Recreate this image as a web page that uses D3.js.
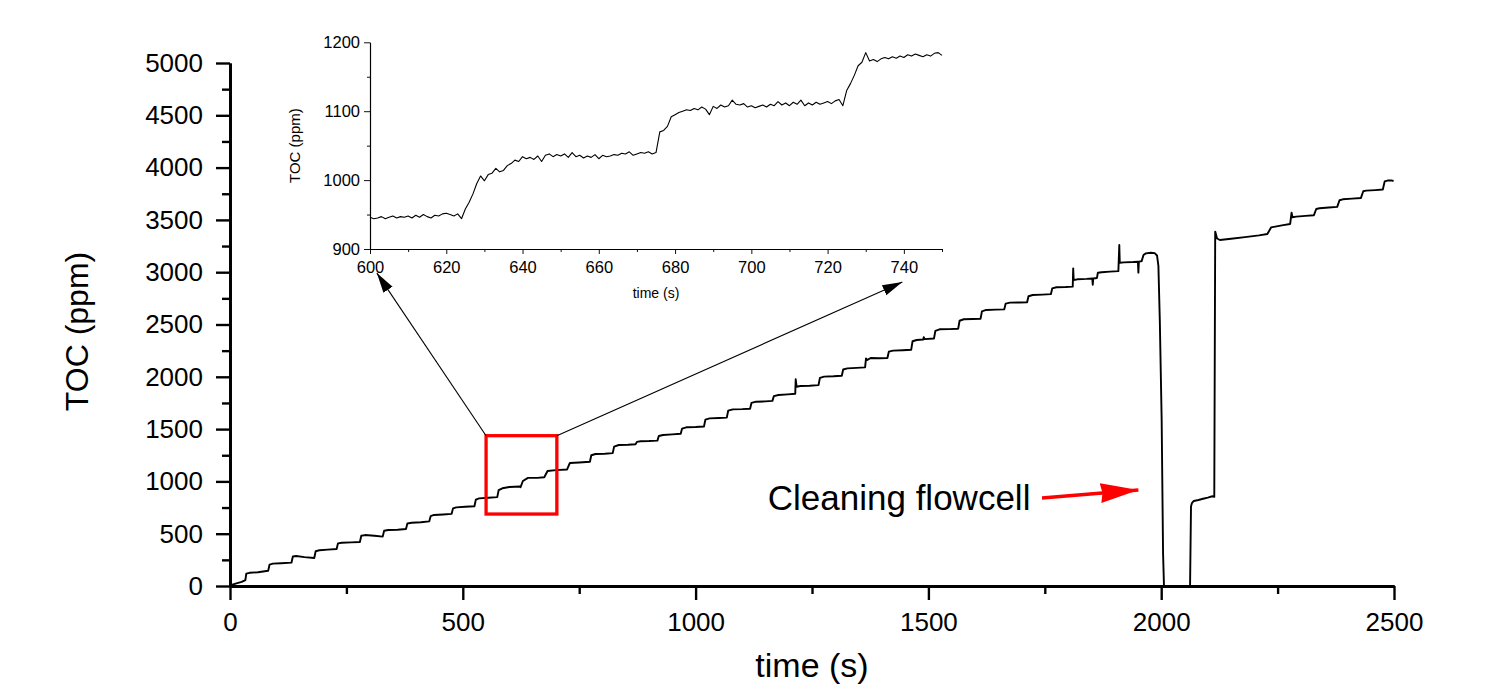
<!DOCTYPE html>
<html lang="en">
<head>
    <meta charset="UTF-8">
    <title>TOC vs time</title>
    <script src="https://d3js.org/d3.v7.min.js"></script>
    <style>
        body {
            margin: 0;
            background: #fff;
            font-family: "Liberation Sans", Arial, sans-serif;
        }
        svg {
            display: block;
        }
    </style>
</head>
<body>
    <svg width="1487" height="685"></svg>

    <script>
        // main trace, [time (s), TOC (ppm)]; null = signal off the axis
        const mainTOC = [
            [0, 5], [12, 22], [25, 40], [33, 57], [35, 118], [42, 126], [60, 132], [82, 146],
            [85, 205], [92, 214], [110, 218], [132, 223],
            [135, 282], [142, 287], [160, 276], [181, 268],
            [184, 332], [192, 342], [210, 348], [229, 354],
            [232, 408], [240, 414], [260, 417], [279, 420],
            [282, 480], [290, 487], [310, 480], [328, 472],
            [331, 528], [340, 535], [360, 538], [378, 545],
            [381, 598], [390, 605], [410, 610], [428, 618],
            [431, 668], [438, 679], [458, 684], [476, 690],
            [479, 742], [486, 752], [505, 757], [525, 762],
            [528, 826], [535, 838], [555, 844], [574, 850],
            [577, 916], [585, 934], [600, 946], [623, 951],
            [624, 944], [629, 1004], [640, 1034], [660, 1034], [675, 1040],
            [682, 1100], [700, 1108], [724, 1114],
            [730, 1176], [750, 1181], [773, 1188],
            [776, 1250], [785, 1262], [805, 1265], [822, 1270],
            [825, 1332], [835, 1348], [855, 1350], [871, 1355],
            [874, 1378], [882, 1384], [900, 1386], [918, 1390],
            [921, 1434], [930, 1444], [950, 1450], [968, 1455],
            [971, 1505], [980, 1517], [1000, 1520], [1018, 1525],
            [1021, 1590], [1030, 1603], [1050, 1606], [1067, 1610],
            [1070, 1676], [1080, 1689], [1100, 1691], [1117, 1695],
            [1120, 1750], [1130, 1762], [1150, 1765], [1165, 1770],
            [1168, 1815], [1178, 1826], [1198, 1832], [1214, 1838],
            [1215, 1976], [1217, 1905], [1225, 1912], [1245, 1915], [1264, 1920],
            [1267, 1990], [1276, 2002], [1296, 2005], [1314, 2010],
            [1317, 2070], [1326, 2081], [1346, 2085], [1364, 2090],
            [1366, 2175], [1368, 2160], [1376, 2180], [1395, 2178], [1412, 2180],
            [1415, 2240], [1424, 2250], [1445, 2254], [1463, 2258],
            [1466, 2340], [1475, 2352], [1489, 2356], [1490, 2378], [1492, 2360], [1512, 2366],
            [1515, 2440], [1524, 2454], [1545, 2456], [1564, 2460],
            [1567, 2536], [1576, 2550], [1595, 2552], [1612, 2555],
            [1615, 2626], [1624, 2639], [1645, 2642], [1663, 2645],
            [1666, 2700], [1675, 2709], [1695, 2710], [1712, 2712],
            [1715, 2770], [1724, 2782], [1745, 2786], [1763, 2790],
            [1766, 2845], [1775, 2856], [1795, 2858], [1810, 2862],
            [1811, 3037], [1812, 2925], [1820, 2932], [1840, 2936], [1852, 2940],
            [1853, 2880], [1854, 2940], [1862, 2945],
            [1864, 2995], [1872, 2999], [1890, 3005], [1908, 3010],
            [1910, 3260], [1911, 3091], [1920, 3094], [1940, 3097], [1950, 3100],
            [1951, 2996], [1952, 3100], [1958, 3106],
            [1962, 3165], [1967, 3180], [1978, 3186], [1986, 3182], [1991, 3160],
            [1994, 3060], [1997, 2543], [2001, 1587], [2004, 312], [2006, 0],
            [2034, null],
            [2062, 0], [2064, 760], [2066, 793], [2070, 813], [2080, 822], [2090, 834],
            [2100, 845], [2110, 858], [2114, 852],
            [2116, 3388], [2120, 3322], [2126, 3308], [2150, 3320], [2180, 3335], [2210, 3352], [2228, 3365],
            [2236, 3428], [2245, 3436], [2262, 3450], [2277, 3461],
            [2280, 3569], [2282, 3525], [2290, 3531], [2310, 3538], [2328, 3545],
            [2333, 3604], [2340, 3611], [2360, 3618], [2378, 3625],
            [2383, 3688], [2390, 3697], [2410, 3703], [2429, 3710],
            [2434, 3774], [2440, 3780], [2460, 3785], [2476, 3790],
            [2480, 3868], [2486, 3876], [2494, 3878], [2499, 3872]
        ];

        // inset trace, 600-750 s
        const insetTOC = [
            [600, 946], [601, 944], [602, 945], [603, 947], [604, 944], [605, 946], [606, 948], [607, 945],
            [608, 947], [609, 946], [610, 948], [611, 945], [612, 949], [613, 946], [614, 950], [615, 947],
            [616, 945], [617, 949], [618, 948], [619, 951], [620, 952], [621, 950], [622, 948], [623, 951],
            [624, 944], [625, 958], [626, 968], [627, 980], [628, 995], [629, 1006], [630, 999], [631, 1008],
            [632, 1010], [633, 1017], [634, 1012], [635, 1014], [636, 1021], [637, 1024], [638, 1029], [639, 1027],
            [640, 1034], [641, 1031], [642, 1033], [643, 1030], [644, 1035], [645, 1027], [646, 1036], [647, 1038],
            [648, 1034], [649, 1037], [650, 1035], [651, 1038], [652, 1033], [653, 1040], [654, 1034], [655, 1036],
            [656, 1032], [657, 1035], [658, 1033], [659, 1037], [660, 1031], [661, 1036], [662, 1034], [663, 1035],
            [664, 1037], [665, 1036], [666, 1039], [667, 1038], [668, 1041], [669, 1036], [670, 1038], [671, 1040],
            [672, 1039], [673, 1041], [674, 1038], [675, 1040], [676, 1070], [677, 1072], [678, 1078], [679, 1092],
            [680, 1095], [681, 1098], [682, 1100], [683, 1102], [684, 1101], [685, 1104], [686, 1102], [687, 1106],
            [688, 1103], [689, 1095], [690, 1107], [691, 1104], [692, 1109], [693, 1106], [694, 1108], [695, 1116],
            [696, 1110], [697, 1109], [698, 1111], [699, 1106], [700, 1108], [701, 1105], [702, 1107], [703, 1109],
            [704, 1106], [705, 1110], [706, 1108], [707, 1114], [708, 1109], [709, 1112], [710, 1108], [711, 1113],
            [712, 1110], [713, 1116], [714, 1108], [715, 1112], [716, 1109], [717, 1113], [718, 1110], [719, 1112],
            [720, 1114], [721, 1111], [722, 1115], [723, 1117], [724, 1108], [725, 1130], [726, 1140], [727, 1152],
            [728, 1166], [729, 1171], [730, 1185], [731, 1173], [732, 1175], [733, 1172], [734, 1176], [735, 1178],
            [736, 1176], [737, 1179], [738, 1177], [739, 1180], [740, 1178], [741, 1182], [742, 1180], [743, 1183],
            [744, 1181], [745, 1179], [746, 1182], [747, 1180], [748, 1184], [749, 1185], [750, 1181]
        ];

        const mainXTicks = [0, 500, 1000, 1500, 2000, 2500];
        const mainXMinor = [250, 750, 1250, 1750, 2250];
        const mainYTicks = [0, 500, 1000, 1500, 2000, 2500, 3000, 3500, 4000, 4500, 5000];
        const mainYMinor = [250, 750, 1250, 1750, 2250, 2750, 3250, 3750, 4250, 4750];
        const insetXTicks = [600, 620, 640, 660, 680, 700, 720, 740];
        const insetXMinor = [610, 630, 650, 670, 690, 710, 730, 750];
        const insetYTicks = [900, 1000, 1100, 1200];
        const insetYMinor = [950, 1050, 1150];

        // zoom box on the main plot: [t0, t1, v0, v1]
        const zoomBox = [550, 702, 688, 1437];

        const svg = d3.select("svg");
        const font = "'Liberation Sans', Arial, sans-serif";
        const fmt = d3.format("d");

        svg.append("rect").attr("width", 1487).attr("height", 685).attr("fill", "#fff");

        // ---- main plot ----
        const x = d3.scaleLinear().domain([0, 2500]).range([230, 1394]);
        const y = d3.scaleLinear().domain([0, 5000]).range([586, 63]);

        const styleAxis = (g, w, fs) => {
            g.select(".domain").attr("stroke", "#000").attr("stroke-width", w);
            g.selectAll(".tick line").attr("stroke", "#000").attr("stroke-width", w * 0.85);
            g.selectAll(".tick text").attr("fill", "#000").attr("font-family", font).attr("font-size", fs);
        };

        svg.append("g")
            .attr("transform", "translate(0,586)")
            .call(d3.axisBottom(x).tickValues(mainXMinor).tickSize(8).tickFormat("").tickSizeOuter(0))
            .call(g => styleAxis(g, 2.8, 26));
        svg.append("g")
            .attr("transform", "translate(0,586)")
            .call(d3.axisBottom(x).tickValues(mainXTicks).tickFormat(fmt).tickSize(14).tickPadding(13).tickSizeOuter(0))
            .call(g => styleAxis(g, 2.8, 26));

        svg.append("g")
            .attr("transform", "translate(230,0)")
            .call(d3.axisLeft(y).tickValues(mainYMinor).tickSize(8).tickFormat("").tickSizeOuter(0))
            .call(g => styleAxis(g, 2.8, 26));
        svg.append("g")
            .attr("transform", "translate(230,0)")
            .call(d3.axisLeft(y).tickValues(mainYTicks).tickFormat(fmt).tickSize(14).tickPadding(13).tickSizeOuter(0))
            .call(g => styleAxis(g, 2.8, 26));

        const mainLine = d3.line()
            .defined(d => d[1] !== null)
            .x(d => x(d[0]))
            .y(d => y(d[1]));

        svg.append("path")
            .datum(mainTOC)
            .attr("d", mainLine)
            .attr("fill", "none")
            .attr("stroke", "#000")
            .attr("stroke-width", 1.9)
            .attr("stroke-linejoin", "round");

        svg.append("text")
            .attr("transform", `translate(88,${(y(0) + y(5000)) / 2 + 7}) rotate(-90)`)
            .attr("text-anchor", "middle")
            .attr("font-family", font)
            .attr("font-size", 32)
            .text("TOC (ppm)");

        // the reference crops this title at the page edge; kept just inside here
        svg.append("text")
            .attr("x", (x(0) + x(2500)) / 2)
            .attr("y", 677)
            .attr("text-anchor", "middle")
            .attr("font-family", font)
            .attr("font-size", 34)
            .text("time (s)");

        // ---- markers ----
        const defs = svg.append("defs");
        defs.append("marker")
            .attr("id", "headBlack")
            .attr("markerUnits", "userSpaceOnUse")
            .attr("viewBox", "0 -6 20 12")
            .attr("refX", 20).attr("refY", 0)
            .attr("markerWidth", 20).attr("markerHeight", 12)
            .attr("orient", "auto")
            .append("path").attr("d", "M0,-5.5L20,0L0,5.5Z").attr("fill", "#000");
        defs.append("marker")
            .attr("id", "headRed")
            .attr("markerUnits", "userSpaceOnUse")
            .attr("viewBox", "0 -11 38 22")
            .attr("refX", 38).attr("refY", 0)
            .attr("markerWidth", 38).attr("markerHeight", 22)
            .attr("orient", "auto")
            .append("path").attr("d", "M0,-10L38,0L0,10L2,0Z").attr("fill", "#f00");

        // ---- zoom box ----
        svg.append("rect")
            .attr("x", x(zoomBox[0]))
            .attr("y", y(zoomBox[3]))
            .attr("width", x(zoomBox[1]) - x(zoomBox[0]))
            .attr("height", y(zoomBox[2]) - y(zoomBox[3]))
            .attr("fill", "none")
            .attr("stroke", "#f00")
            .attr("stroke-width", 3.3);

        // ---- inset ----
        const ix = d3.scaleLinear().domain([600, 750]).range([370, 942]);
        const iy = d3.scaleLinear().domain([900, 1200]).range([249, 42.3]);

        svg.append("line")
            .attr("x1", x(zoomBox[0])).attr("y1", y(zoomBox[3]))
            .attr("x2", ix(601.8)).attr("y2", iy(865))
            .attr("stroke", "#000").attr("stroke-width", 1.1)
            .attr("marker-end", "url(#headBlack)");
        svg.append("line")
            .attr("x1", x(zoomBox[1])).attr("y1", y(zoomBox[3]))
            .attr("x2", ix(739.6)).attr("y2", iy(852))
            .attr("stroke", "#000").attr("stroke-width", 1.1)
            .attr("marker-end", "url(#headBlack)");

        svg.append("g")
            .attr("transform", "translate(0,249)")
            .call(d3.axisBottom(ix).tickValues(insetXMinor).tickSize(3).tickFormat("").tickSizeOuter(0))
            .call(g => styleAxis(g, 1.1, 16.5));
        svg.append("g")
            .attr("transform", "translate(0,249)")
            .call(d3.axisBottom(ix).tickValues(insetXTicks).tickFormat(fmt).tickSize(5).tickPadding(7).tickSizeOuter(0))
            .call(g => styleAxis(g, 1.1, 16.5));
        svg.append("g")
            .attr("transform", "translate(370,0)")
            .call(d3.axisLeft(iy).tickValues(insetYMinor).tickSize(3).tickFormat("").tickSizeOuter(0))
            .call(g => styleAxis(g, 1.1, 16.5));
        svg.append("g")
            .attr("transform", "translate(370,0)")
            .call(d3.axisLeft(iy).tickValues(insetYTicks).tickFormat(fmt).tickSize(6).tickPadding(4).tickSizeOuter(0))
            .call(g => styleAxis(g, 1.1, 16.5));

        svg.append("path")
            .datum(insetTOC)
            .attr("d", d3.line().x(d => ix(d[0])).y(d => iy(d[1])))
            .attr("fill", "none")
            .attr("stroke", "#000")
            .attr("stroke-width", 1.1)
            .attr("stroke-linejoin", "round");

        svg.append("text")
            .attr("transform", `translate(300,${(iy(900) + iy(1200)) / 2}) rotate(-90)`)
            .attr("text-anchor", "middle")
            .attr("font-family", font)
            .attr("font-size", 15)
            .text("TOC (ppm)");

        svg.append("text")
            .attr("x", 656)
            .attr("y", 298)
            .attr("text-anchor", "middle")
            .attr("font-family", font)
            .attr("font-size", 14)
            .text("time (s)");

        // ---- annotation ----
        svg.append("text")
            .attr("x", x(1155))
            .attr("y", y(727))
            .attr("font-family", font)
            .attr("font-size", 35)
            .text("Cleaning flowcell");

        svg.append("line")
            .attr("x1", x(1744)).attr("y1", y(841))
            .attr("x2", x(1951)).attr("y2", y(918))
            .attr("stroke", "#f00").attr("stroke-width", 3.4)
            .attr("marker-end", "url(#headRed)");
    </script>
</body>
</html>
